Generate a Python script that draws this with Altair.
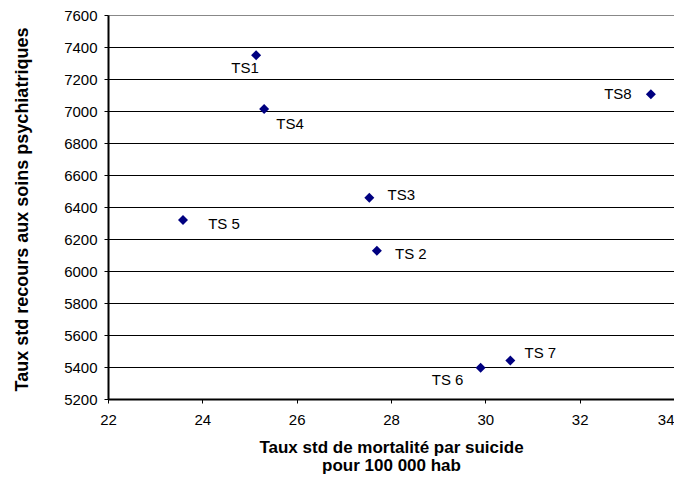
import altair as alt
import pandas as pd

labels = ["TS1", "TS 2", "TS3", "TS4", "TS 5", "TS 6", "TS 7", "TS8"]
mortalite = [25.14, 27.70, 27.54, 25.31, 23.59, 29.90, 30.53, 33.51]
recours = [7349, 6126, 6458, 7013, 6318, 5395, 5440, 7104]
x_ticks = [22, 24, 26, 28, 30, 32, 34]
y_ticks = [5200, 5400, 5600, 5800, 6000, 6200, 6400, 6600, 6800, 7000, 7200, 7400, 7600]
# label offsets (dx, dy) in pixels relative to each point
label_dx = [-11, 34, 32, 26, 41, -33, 30, -33]
label_dy = [13, 3, -3, 15, 4, 12, -8, 0]

df = pd.DataFrame({"label": labels, "x": mortalite, "y": recours})

x_scale = alt.Scale(domain=[22, 34], nice=False, zero=False)
y_scale = alt.Scale(domain=[5200, 7600], nice=False, zero=False)

points = alt.Chart(df).mark_point(
    shape="diamond", filled=True, color="#000080", size=100, opacity=1
).encode(
    x=alt.X("x:Q", scale=x_scale,
            axis=alt.Axis(values=x_ticks, tickCount=len(x_ticks), grid=False, format="d",
                          labelOverlap=False,
                          labelAlign={"condition": {"test": "datum.value == 34", "value": "right"},
                                      "value": "center"},
                          title=["Taux std de mortalité par suicide", "pour 100 000 hab"],
                          titleFontSize=17, titleFontWeight="bold",
                          titleBaseline="alphabetic", titleLineHeight=18,
                          titleX=283, titleY=53,
                          labelFontSize=15, labelPadding=9, tickSize=4,
                          domainColor="black", tickColor="black", domainWidth=2)),
    y=alt.Y("y:Q", scale=y_scale,
            axis=alt.Axis(values=y_ticks, tickCount=len(y_ticks), grid=True,
                          gridColor={"condition": {"test": "datum.value == 7600", "value": "#888888"},
                                     "value": "black"},
                          gridWidth=1, gridOpacity=1, format="d", labelOverlap=False,
                          title="Taux std recours aux soins psychiatriques",
                          titleFontSize=18, titleFontWeight="bold",
                          titleBaseline="alphabetic", titleAngle=270,
                          titleX=-81, titleY=194,
                          labelFontSize=15, labelPadding=7, tickSize=4,
                          domainColor="black", tickColor="black", domainWidth=2)),
)

texts = []
for i in range(len(labels)):
    t = alt.Chart(df.iloc[[i]]).mark_text(
        fontSize=15, color="black", dx=label_dx[i], dy=label_dy[i]
    ).encode(
        x=alt.X("x:Q", scale=x_scale),
        y=alt.Y("y:Q", scale=y_scale),
        text="label:N",
    )
    texts.append(t)

chart = alt.layer(points, *texts).properties(
    width=566, height=384,
    autosize=alt.AutoSizeParams(type="none"),
    padding={"left": 100, "top": 7, "right": 0, "bottom": 76},
).configure_view(
    stroke="#888888", strokeWidth=1
).configure(
    font="Liberation Sans"
).configure_axis(
    labelFont="Liberation Sans", titleFont="Liberation Sans",
    labelColor="black", titleColor="black"
)

chart.save("out.html", embed_options={"renderer": "svg", "actions": False})
